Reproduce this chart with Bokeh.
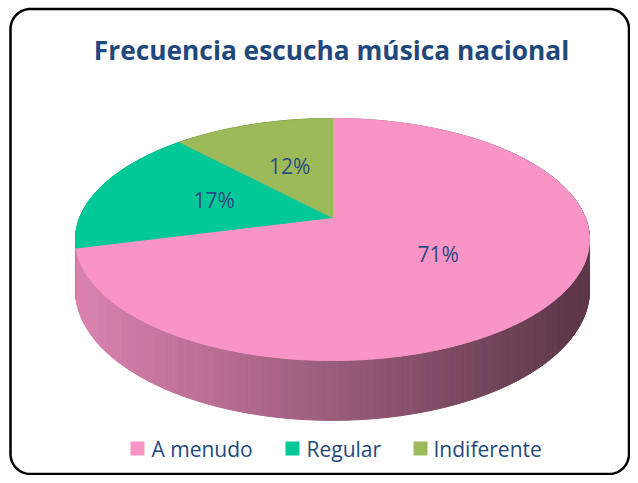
import numpy as np
from bokeh.plotting import figure
from bokeh.models import Range1d
from bokeh.core.properties import value
from bokeh.embed import file_html
from bokeh.resources import INLINE

# ---- data ----
title_text = "Frecuencia escucha música nacional"
categories = ["A menudo", "Regular", "Indiferente"]
shares = [71, 17, 12]
labels = ["71%", "17%", "12%"]
top_colors = ["#f995c6", "#00c896", "#9dba5a"]

# ---- figure ----
W, H = 630, 475
p = figure(width=W, height=H, x_range=Range1d(0, W), y_range=Range1d(H, 0),
           x_axis_location=None, y_axis_location=None, toolbar_location=None,
           output_backend="svg", min_border=0)
p.grid.visible = False
p.outline_line_color = None
p.background_fill_color = "white"
p.border_fill_color = "white"

# perspective pie geometry (screen space)
CX, CY, A, B, K, D = 332.0, 217.0, 252.7, 117.0, 0.1818, 49.0


def proj(f, r=1.0):
    th = np.pi / 2 - 2 * np.pi * np.asarray(f, dtype=float)
    X = r * np.cos(th)
    Y = r * np.sin(th)
    w = 1 + K * Y
    return CX + A * X / w, CY - B * Y / w, w, Y


def hex2rgb(h):
    h = h.lstrip("#")
    return np.array([int(h[i:i + 2], 16) for i in (0, 2, 4)], dtype=float)


def rgb2hex(c):
    c = np.clip(np.round(c), 0, 255).astype(int)
    return "#%02x%02x%02x" % tuple(c)


total = float(sum(shares))
bounds = np.cumsum([0] + shares) / total

# ---- side wall (strips with horizontal gradient) ----
n = 720
fs = np.linspace(0, 1, n + 1)
x0, y0, w0, Y0 = proj(fs)
yb = y0 + D / w0
xmin, xmax = x0.min(), x0.max()
strips = []
for i in range(n):
    fm = (fs[i] + fs[i + 1]) / 2
    idx = min(int(np.searchsorted(bounds, fm, side="right") - 1), len(shares) - 1)
    xm = (x0[i] + x0[i + 1]) / 2
    t = (xm - xmin) / (xmax - xmin)
    fac = max(0.88 - 0.52 * t, 0.38)
    col = rgb2hex(hex2rgb(top_colors[idx]) * fac)
    strips.append(((Y0[i] + Y0[i + 1]) / 2,
                   [x0[i], x0[i + 1], x0[i + 1], x0[i]],
                   [y0[i], y0[i + 1], yb[i + 1], yb[i]], col))
strips.sort(key=lambda s: -s[0])
p.patches([s[1] for s in strips], [s[2] for s in strips],
          fill_color=[s[3] for s in strips], line_color=[s[3] for s in strips],
          line_width=1)

# ---- top face slices ----
sx, sy, sc = [], [], []
for i in range(len(shares)):
    f = np.linspace(bounds[i], bounds[i + 1], 240)
    px, py, _, _ = proj(f)
    sx.append([CX] + list(px))
    sy.append([CY] + list(py))
    sc.append(top_colors[i])
p.patches(sx, sy, fill_color=sc, line_color=sc, line_width=1)

# ---- data labels ----
mids = (bounds[:-1] + bounds[1:]) / 2
lx, ly, _, _ = proj(mids, r=0.5)
p.text(x=list(lx), y=list(ly - 1.5), text=labels, text_align="center",
       text_baseline="middle", text_font=value("Open Sans"),
       text_font_size="21px", text_color="#2b4b80")

# ---- title ----
p.text(x=[331], y=[49], text=[title_text], text_align="center",
       text_baseline="middle", text_font=value("Open Sans"),
       text_font_style="bold", text_font_size="26.3px", text_color="#1f497d")

# ---- legend ----
leg_sq_x = [137, 292, 420]
leg_tx_x = [151, 306, 433]
p.rect(x=leg_sq_x, y=[448] * 3, width=14, height=14,
       fill_color=top_colors, line_color=None)
p.text(x=leg_tx_x, y=[448] * 3, text=categories, text_align="left",
       text_baseline="middle", text_font=value("Open Sans"),
       text_font_size="21px", text_color="#1f497d")

# ---- rounded border ----
L, R, T, Bt, rad = 10.0, 628.5, 8.5, 473.5, 20.0
a = np.linspace(0, np.pi / 2, 20)
bx = np.concatenate([
    L + rad - rad * np.cos(a), R - rad + rad * np.sin(a),
    R - rad + rad * np.cos(a), L + rad - rad * np.sin(a), [L]])
by = np.concatenate([
    T + rad - rad * np.sin(a), T + rad - rad * np.cos(a),
    Bt - rad + rad * np.sin(a), Bt - rad + rad * np.cos(a), [T + rad]])
p.line(bx, by, line_color="black", line_width=2.5)

open("out.html", "w").write(file_html(p, INLINE))
